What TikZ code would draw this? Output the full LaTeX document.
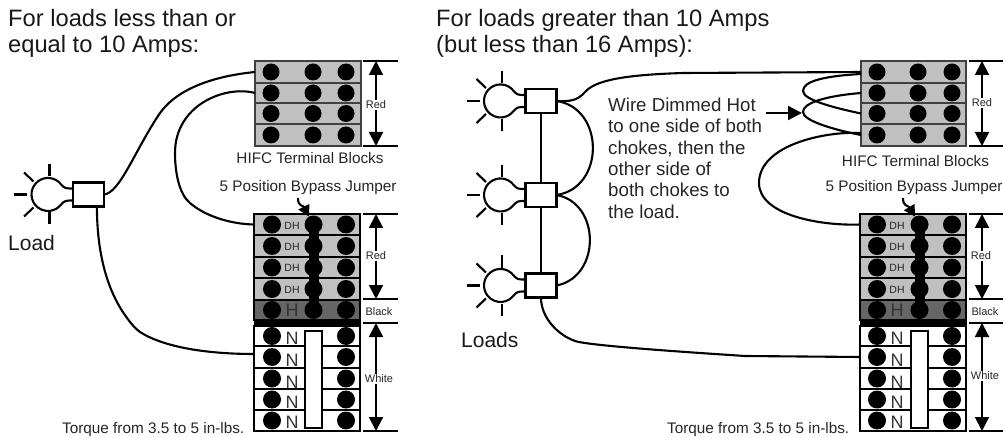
\documentclass[tikz,border=0pt]{standalone}
\usepackage{fontspec}
\setmainfont{Liberation Sans}
\usetikzlibrary{arrows.meta}
\definecolor{rowgray}{HTML}{C0C0C0}
\definecolor{hotgray}{HTML}{666666}
\tikzstyle{wire} = [black, line width=2.1pt]
\tikzstyle{termrow} = [draw=black, line width=1.3pt, rectangle, inner sep=0, outer sep=0]
\tikzstyle{termdot} = [fill=black, circle, inner sep=0, minimum size=17pt]
\tikzstyle{powerdot} = [fill=black, circle, inner sep=0, minimum size=18pt]
\tikzstyle{lampbox} = [draw=black, fill=white, line width=2.2pt, rectangle, inner sep=0, outer sep=0, minimum width=31pt, minimum height=24pt]
\tikzstyle{barline} = [black, line width=2pt]
\tikzstyle{spanarrow} = [black, line width=2pt, {Triangle[width=14pt,length=14pt]}-{Triangle[width=14pt,length=14pt]}]
\tikzstyle{pointer} = [black, line width=2.1pt, -{Triangle[width=12pt,length=11pt]}]
\tikzstyle{tinylabel} = [font=\fontsize{11}{13}\selectfont, inner sep=1pt, text=black!85]
\tikzstyle{smalllabel} = [font=\fontsize{15.3}{18}\selectfont, inner sep=0, text=black!85]
\tikzstyle{titlelabel} = [font=\fontsize{23.7}{26}\selectfont, inner sep=0, align=left, text=black!90]
\tikzstyle{loadlabel} = [font=\fontsize{21}{24}\selectfont, inner sep=0, text=black!90]
\tikzstyle{bigletter} = [font=\fontsize{18}{20}\selectfont, inner sep=0, text=black!80]

% name, circle x, circle y
\newcommand{\lampunit}[3]{
\node[lampbox] (#1) at ({#2+40.5},#3) {};
\draw[wire] ({#2+13},{#3-10.2}) arc (-38:-322:16.5);
\draw[wire] ({#2+13},{#3-10.2}) .. controls ({#2+17},{#3-6}) .. ({#2+25},{#3-6});
\draw[wire] ({#2+13},{#3+10.2}) .. controls ({#2+17},{#3+6}) .. ({#2+25},{#3+6});
\draw[wire] ({#2+1.5},{#3-30}) -- ({#2+1.5},{#3-18});
\draw[wire] ({#2+1.5},{#3+18}) -- ({#2+1.5},{#3+30});
\draw[wire] ({#2-34},#3) -- ({#2-21},#3);
\draw[wire] ({#2-24},{#3-22}) -- ({#2-14.5},{#3-13});
\draw[wire] ({#2-24},{#3+22}) -- ({#2-14.5},{#3+13});
}
% name, left x, width, three dot columns
\newcommand{\hifcblock}[6]{
\foreach \i/\t/\b in {1/61/83,2/83/103,3/103/124,4/124/146} {
    \node[termrow, draw=black!75, fill=rowgray, minimum width=#3, minimum height={(\b-\t)*1pt}] (#1\i) at ({#2+#3/2},{(\t+\b)/2}) {};
    \foreach \c/\dotx in {a/#4,b/#5,c/#6}
        \node[termdot] (#1\i\c) at (\dotx,{(\t+\b)/2}) {};
}
}
% name, left x, three dot columns
\newcommand{\powerblock}[5]{
\foreach \i/\t/\b/\f in {1/214/235/rowgray,2/235/257/rowgray,3/257/278/rowgray,4/278/300/rowgray,5/300/320/hotgray,6/326/346/white,7/346/368/white,8/368/389/white,9/389/410/white,10/410/431/white}
    \node[termrow, line width=2pt, fill=\f, minimum width=106, minimum height={(\b-\t)*1pt}] (#1\i) at ({#2+53},{(\t+\b)/2}) {};
\node[fill=black, inner sep=0, minimum width=107, minimum height=6] (#1band) at ({#2+53},323) {};
\foreach \i in {1,...,5} {
    \node[powerdot] (#1\i a) at (#3,0 |- #1\i) {};
    \node[powerdot] (#1\i b) at (#4,0 |- #1\i) {};
    \node[powerdot] (#1\i c) at (#5,0 |- #1\i) {};
}
\foreach \i in {6,...,10} {
    \node[powerdot] (#1\i a) at (#3,0 |- #1\i) {};
    \node[powerdot] (#1\i c) at (#5,0 |- #1\i) {};
}
\foreach \i in {1,...,4}
    \node[tinylabel, font=\fontsize{10.5}{12}\selectfont] (#1dh\i) at ({#3+20},{\i*21.4+204}) {DH};
\node[bigletter] (#1hot) at ({#3+20},310) {H};
\foreach \i/\y in {6/338,7/360,8/382,9/402,10/422}
    \node[bigletter] (#1n\i) at ({#3+20},\y) {N};
\node[draw=black, line width=2pt, fill=white, inner sep=0, minimum width=17, minimum height=97] (#1bar) at (#4,379.5) {};
\draw[black, line width=10pt] (#11b.center) -- (#15b.center);
}
% name, label, arrow x, top y, bottom y, label x, label y
\newcommand{\spanmark}[7]{
\coordinate (#1top) at (#3,#4);
\coordinate (#1bot) at (#3,#5);
\draw[spanarrow] (#1top) -- (#1bot);
\node[tinylabel, fill=white] (#1text) at (#6,#7) {#2};
}

\begin{document}
\begin{tikzpicture}[x=1pt, y=-1pt]
\useasboundingbox (0,0) rectangle (1003,438);
\fill[white] (0,0) rectangle (1003,438);

% left side
\node[titlelabel, anchor=north west] (titleL) at (8,9.5) {For loads less than or\\equal to 10 Amps:};
\hifcblock{hifcL}{255}{106}{271}{313}{346}
\node[smalllabel] (hifcnameL) at (310,158) {HIFC Terminal Blocks};
\node[smalllabel] (jumpernameL) at (308,188) {5 Position Bypass Jumper};
\powerblock{termL}{254}{272}{313.5}{346}
\foreach \y in {61,146,214,299,323,431}
    \draw[barline] (363,\y) -- (398,\y);
\spanmark{hifcredL}{Red}{376}{61}{146}{376}{105}
\spanmark{redL}{Red}{376}{214}{299}{376}{256}
\node[tinylabel] (blackL) at (379,312) {Black};
\spanmark{whiteL}{White}{376}{323}{431}{379}{379}
\lampunit{load}{48}{194.5}
\node[loadlabel, anchor=base west] (loadname) at (8,251) {Load};
\node[smalllabel, anchor=base west] (torqueL) at (62,433) {Torque from 3.5 to 5 in-lbs.};
\coordinate (jumperstartL) at (298,198);
\draw[pointer] (jumperstartL) .. controls (298,207) and (303,205) .. (termL1b.120);
\draw[wire] (load.east) .. controls (120,193) and (135,150) .. (160,113) .. controls (178,88) and (215,76) .. (hifcL1.west);
\draw[wire] (hifcL2.west) .. controls (225,85) and (175,105) .. (175,153) .. controls (175,175) and (180,195) .. (190,203) .. controls (205,216) and (230,224) .. (termL1.west);
\draw[wire] (load.-55) .. controls (97,260) and (110,295) .. (127,318) .. controls (133,326) and (136,329) .. (140,332) .. controls (165,348) and (210,354) .. ([yshift=3pt]termL7.west);

% right side
\node[titlelabel, anchor=north west] (titleR) at (436,9.5) {For loads greater than 10 Amps\\(but less than 16 Amps):};
\hifcblock{hifcR}{861}{105}{877}{918}{952}
\node[smalllabel] (hifcnameR) at (915.5,161) {HIFC Terminal Blocks};
\node[smalllabel] (jumpernameR) at (914,188) {5 Position Bypass Jumper};
\powerblock{termR}{860}{877}{919.5}{952}
\foreach \y in {61,146,214,299,323,431}
    \draw[barline] (969,\y) -- (1003,\y);
\spanmark{hifcredR}{Red}{982}{61}{146}{982}{103}
\spanmark{redR}{Red}{982}{214}{299}{981}{256}
\node[tinylabel] (blackR) at (985,312) {Black};
\spanmark{whiteR}{White}{982}{323}{431}{985}{376}
\lampunit{lampA}{500.5}{101}
\lampunit{lampB}{500.5}{195}
\lampunit{lampC}{500.5}{285.5}
\draw[wire] (lampA.south) -- (lampB.north);
\draw[wire] (lampB.south) -- (lampC.north);
\node[loadlabel, anchor=base west] (loadsname) at (461,347) {Loads};
\node[smalllabel, anchor=base west] (torqueR) at (667,433) {Torque from 3.5 to 5 in-lbs.};
\node[font=\fontsize{18.7}{21.4}\selectfont, anchor=north west, inner sep=0, align=left, text=black!85] (note) at (608,97.5) {Wire Dimmed Hot\\to one side of both\\chokes, then the\\other side of\\both chokes to\\the load.};
\coordinate (notearrowstart) at (766,113);
\coordinate (notearrowend) at (802,113);
\draw[pointer, -{Triangle[width=14pt,length=14pt]}] (notearrowstart) -- (notearrowend);
\coordinate (jumperstartR) at (903,198);
\draw[pointer] (jumperstartR) .. controls (903,207) and (908,205) .. (termR1b.120);
\draw[wire] (lampA.east) .. controls (570,101.5) and (577,101) .. (585,92) .. controls (595,81) and (620,75) .. (683,73) -- (hifcR1.west);
\draw[wire] (lampA.east) .. controls (605,108) and (605,188) .. (lampB.east);
\draw[wire] (lampB.east) .. controls (601,203) and (601,277) .. (lampC.east);
\draw[wire] (lampC.south) .. controls (541,318) and (558,335) .. (575,341) .. controls (590,346) and (700,353) .. (745,356) -- (termR7.west);
\draw[wire] ([yshift=-2pt]hifcR1.west) .. controls (825,76) and (803,81) .. (803,91) .. controls (803,100) and (835,108) .. (hifcR3.west);
\draw[wire] (hifcR2.west) .. controls (825,96) and (803,103) .. (803,112) .. controls (803,121) and (835,130) .. (hifcR4.west);
\draw[wire] ([yshift=2pt]hifcR4.west) .. controls (825,131) and (759,145) .. (759,183) .. controls (759,215) and (820,226) .. (termR1.west);
\end{tikzpicture}
\end{document}
